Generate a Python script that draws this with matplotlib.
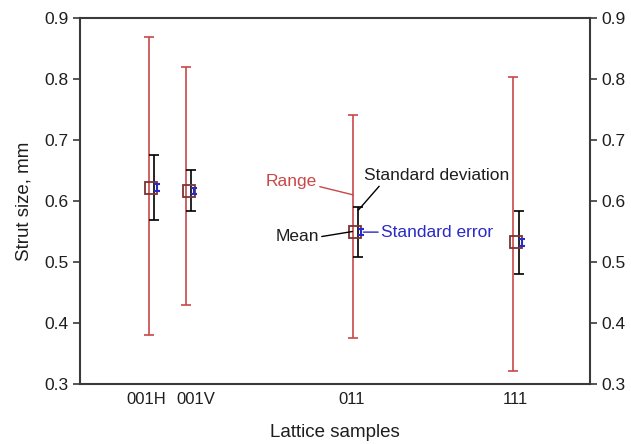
import matplotlib.pyplot as plt

plt.rcParams['font.family'] = ['Liberation Sans', 'DejaVu Sans']

# sample data (strut size, mm)
samples = ["001H", "001V", "011", "111"]
x_pos = [0.95, 1.46, 3.75, 5.95]
label_pos = [0.91, 1.59, 3.73, 5.98]
means = [0.622, 0.617, 0.549, 0.532]
range_min = [0.380, 0.430, 0.376, 0.321]
range_max = [0.869, 0.820, 0.741, 0.803]
sd = [0.053, 0.033, 0.041, 0.052]
se = [0.006, 0.005, 0.005, 0.005]

red = "#c84848"
blue = "#2a2ac8"
dark = "#3a3a3a"
txt = "#1e1e1e"

fig = plt.figure(figsize=(6.31, 4.44), dpi=100)
ax = fig.add_axes([0.1268, 0.1351, 0.8082, 0.8244])

# range bars
low = [m - lo for m, lo in zip(means, range_min)]
high = [hi - m for m, hi in zip(means, range_max)]
ax.errorbar(x_pos, means, yerr=[low, high], fmt="none", ecolor=red,
            elinewidth=1.2, capsize=3.8, capthick=1.2)

# standard deviation
x_sd = [x + 0.07 for x in x_pos]
ax.errorbar(x_sd, means, yerr=sd, fmt="none", ecolor="black",
            elinewidth=1.2, capsize=3.6, capthick=1.2)

# mean markers
x_mean = [x + 0.03 for x in x_pos]
ax.plot(x_mean, means, "s", ms=8.5, mfc="none", mec="#7a3434", mew=1.3)

# standard error
x_se = [x + 0.11 for x in x_pos]
ax.errorbar(x_se, means, yerr=se, fmt="none", ecolor=blue,
            elinewidth=1.5, capsize=2.2, capthick=1.5)

ax.set_xlim(0, 7)
ax.set_ylim(0.3, 0.9)
ax.set_xticks(label_pos)
ax.set_xticklabels(samples)
ax.tick_params(axis="x", length=0, labelsize=12, pad=6, colors=txt)
ax.set_yticks([0.3, 0.4, 0.5, 0.6, 0.7, 0.8, 0.9])
ax.tick_params(axis="y", length=5, width=1.2, labelsize=12.5, colors=txt,
               right=True, labelright=True, direction="out")
ax.tick_params(axis="y", color=dark)
for s in ax.spines.values():
    s.set_linewidth(1.5)
    s.set_color(dark)

ax.set_xlabel("Lattice samples", fontsize=13.5, labelpad=12, color=txt)
ax.set_ylabel("Strut size, mm", fontsize=13.5, labelpad=8, color=txt)

# annotations for the 011 sample
i = 2
ax.annotate("Range", xy=(x_pos[i], 0.61), xytext=(2.55, 0.632),
            color=red, fontsize=12.5, va="center", ha="left",
            arrowprops=dict(arrowstyle="-", color=red, lw=1,
                            shrinkA=0, shrinkB=0, relpos=(1, 0.2)))
ax.annotate("Standard deviation", xy=(x_sd[i], 0.585),
            xytext=(3.9, 0.641), color=txt, fontsize=12.5,
            va="center", ha="left",
            arrowprops=dict(arrowstyle="-", color="black", lw=1,
                            shrinkA=0, shrinkB=0, relpos=(0.12, 0)))
ax.annotate("Mean", xy=(x_mean[i] - 0.04, 0.550), xytext=(3.28, 0.541),
            color=txt, fontsize=12.5, va="center", ha="right",
            arrowprops=dict(arrowstyle="-", color="black", lw=1,
                            shrinkA=0, shrinkB=0, relpos=(1, 0.5)))
ax.annotate("Standard error", xy=(x_se[i] + 0.03, 0.549), xytext=(4.13, 0.549),
            color=blue, fontsize=12.5, va="center", ha="left",
            arrowprops=dict(arrowstyle="-", color=blue, lw=1,
                            shrinkA=0, shrinkB=0, relpos=(0, 0.5)))

fig.savefig("out.png", dpi=100)
